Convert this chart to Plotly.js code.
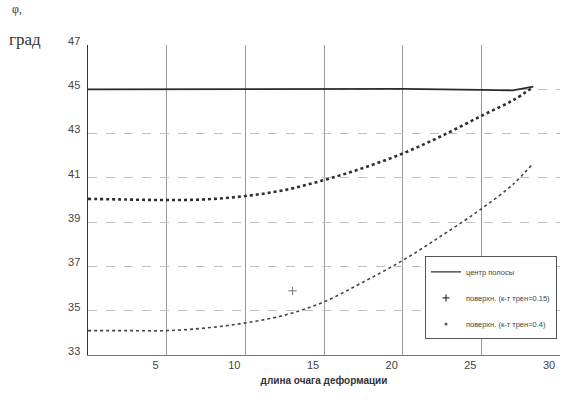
<!DOCTYPE html>
<html>
<head>
<meta charset="utf-8">
<script src="https://cdn.plot.ly/plotly-3.0.1.min.js"></script>
<style>html,body{margin:0;padding:0;background:#fff;}#chart{width:564px;height:406px;}</style>
</head>
<body>
<div id="chart"></div>
<script>
// ---- data ----
var xCenter = [0, 5, 10, 15, 20, 25, 27, 28.3];
var yCenter = [45.0, 45.0, 45.02, 45.02, 45.02, 44.97, 44.95, 45.12];

var x015 = [0, 2.5, 5, 7.5, 10, 12.5, 15, 17.5, 20, 22.5, 25, 27, 28.3];
var y015 = [40.05, 40.02, 40.0, 40.03, 40.18, 40.45, 40.9, 41.45, 42.1, 42.9, 43.8, 44.5, 45.1];

var x04 = [0, 2.5, 5, 7.5, 10, 12.5, 15, 17.5, 20, 22.5, 25, 27, 28.3];
var y04 = [34.1, 34.1, 34.1, 34.22, 34.45, 34.8, 35.4, 36.3, 37.27, 38.4, 39.6, 40.7, 41.66];

var xStray = [13.0];
var yStray = [35.9];

var seriesNames = ["центр полосы", "поверхн. (к-т трен=0.15)", "поверхн. (к-т трен=0.4)"];
var xTicks = [5, 10, 15, 20, 25, 30];
var yTicks = [33, 35, 37, 39, 41, 43, 45, 47];
var xTitle = "длина очага деформации";
var yTitleLines = ["φ,", "град"];

var traces = [
  {x: xCenter, y: yCenter, mode: "lines", line: {color: "#2b2b2b", width: 1.8}, showlegend: false},
  {x: x015, y: y015, mode: "lines", line: {color: "#2e2e2e", width: 2.6, dash: "dot", shape: "spline"}, showlegend: false},
  {x: x04, y: y04, mode: "lines", line: {color: "#444", width: 1.6, dash: "dot", shape: "spline"}, showlegend: false},
  {x: xStray, y: yStray, mode: "markers", marker: {symbol: "cross-thin", size: 6, line: {color: "#777", width: 1}}, showlegend: false},
  // legend entries
  {x: [null], y: [null], name: seriesNames[0], mode: "lines", line: {color: "#333", width: 1.2}, legendgroup: "a"},
  {x: [null], y: [null], name: seriesNames[1], mode: "markers", marker: {symbol: "cross-thin", size: 5, color: "#333", line: {color: "#333", width: 1.2}}, legendgroup: "b"},
  {x: [null], y: [null], name: seriesNames[2], mode: "markers", marker: {symbol: "circle", size: 3, color: "#555"}, legendgroup: "c"}
];

var layout = {
  width: 564, height: 406,
  margin: {l: 88, r: 4, t: 45, b: 51},
  paper_bgcolor: "#fff", plot_bgcolor: "#fff",
  showlegend: true,
  font: {family: "Liberation Sans, Arial, sans-serif", color: "#444"},
  xaxis: {
    range: [0, 30], tickvals: xTicks, ticktext: xTicks.map(String),
    showgrid: true, gridcolor: "#9a9a9a", gridwidth: 1,
    zeroline: false, showline: true, linecolor: "#777", linewidth: 1,
    ticks: "", ticklabelshift: -11, tickfont: {size: 11, color: "#444"},
    title: {text: xTitle, font: {size: 10, color: "#333", weight: "bold"}, standoff: 6}
  },
  yaxis: {
    range: [33, 47], tickvals: yTicks, ticktext: yTicks.map(String),
    showgrid: true, gridcolor: "#c0c0c0", griddash: "dash", gridwidth: 1,
    zeroline: false, showline: true, linecolor: "#333", linewidth: 1.5,
    ticks: "", ticklabelshift: -4, ticklabelstandoff: 4, tickfont: {size: 11, color: "#444"}
  },
  legend: {
    x: 0.9936, xanchor: "right", y: 0.318, yanchor: "top",
    bgcolor: "#fff", bordercolor: "#555", borderwidth: 1,
    font: {size: 7.5, color: "#444"}, tracegroupgap: 7, itemwidth: 30
  },
  annotations: [
    {xref: "paper", yref: "paper", x: -0.165, y: 1.115, xanchor: "left", yanchor: "middle",
     text: yTitleLines[0], showarrow: false, font: {family: "Liberation Serif, serif", size: 12, color: "#333"}},
    {xref: "paper", yref: "paper", x: -0.172, y: 1.018, xanchor: "left", yanchor: "middle",
     text: yTitleLines[1], showarrow: false, font: {family: "Liberation Serif, serif", size: 17, color: "#333"}}
  ]
};

Plotly.newPlot("chart", traces, layout, {staticPlot: true, displayModeBar: false});
</script>
</body>
</html>
